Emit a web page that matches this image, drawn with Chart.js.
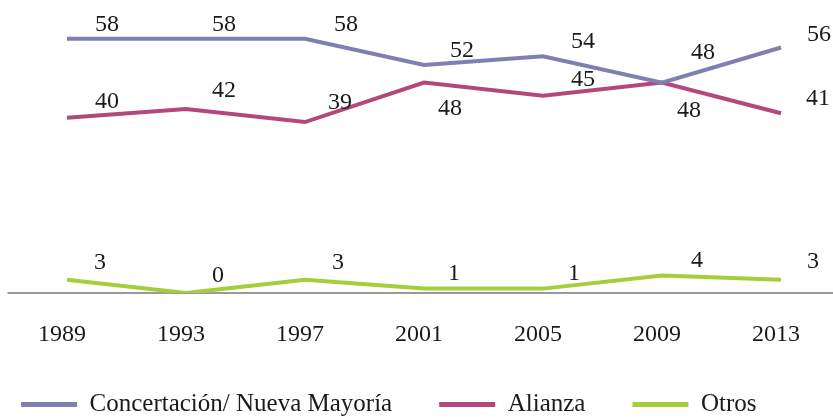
<!DOCTYPE html>
<html><head><meta charset="utf-8">
<script src="https://cdn.jsdelivr.net/npm/chart.js@4/dist/chart.umd.min.js"></script>
<style>html,body{margin:0;padding:0;background:#fff;overflow:hidden}</style>
</head><body>
<canvas id="c" width="833" height="417"></canvas>
<script>
// ---- data ----
const years = ['1989', '1993', '1997', '2001', '2005', '2009', '2013'];
const seriesNames = ['Concertación/ Nueva Mayoría', 'Alianza', 'Otros'];
const concertacion = [58, 58, 58, 52, 54, 48, 56];
const alianza = [40, 42, 39, 48, 45, 48, 41];
const otros = [3, 0, 3, 1, 1, 4, 3];

// ---- styles ----
const colors = ['#7f7fb2', '#b4487c', '#a6cd3a'];
const FONT = '"Liberation Serif", "Times New Roman", serif';
const PAD_BOTTOM = -10;
// label offsets (dx, dy in px) from each point
const labelOffsets = [
  [[40,-14],[38,-14],[41,-14],[38,-14],[40,-15],[41,-30],[38,-13]],
  [[40,-16],[38,-18],[35,-19],[26,26],[40,-16],[27,28],[37,-15]],
  [[33,-17],[32,-17],[33,-17],[30,-15],[31,-15],[35,-15],[32,-18]]
];

const valueLabels = {
  id: 'valueLabels',
  afterDatasetsDraw(chart) {
    const ctx = chart.ctx;
    ctx.save();
    ctx.font = '24px ' + FONT;
    ctx.fillStyle = '#1a1a1a';
    ctx.textAlign = 'center';
    ctx.textBaseline = 'middle';
    chart.data.datasets.forEach((ds, i) => {
      const meta = chart.getDatasetMeta(i);
      meta.data.forEach((pt, j) => {
        const o = labelOffsets[i][j];
        ctx.fillText(String(ds.data[j]), pt.x + o[0], pt.y + o[1]);
      });
    });
    ctx.restore();
  }
};

const baseline = {
  id: 'baseline',
  beforeDatasetsDraw(chart) {
    const x = chart.scales.x, y = chart.scales.y;
    const half = (x.getPixelForValue(1) - x.getPixelForValue(0)) / 2;
    const py = y.getPixelForValue(0);
    const ctx = chart.ctx;
    ctx.save();
    ctx.strokeStyle = '#9a9a9a';
    ctx.lineWidth = 2;
    ctx.beginPath();
    ctx.moveTo(x.getPixelForValue(0) - half, py);
    ctx.lineTo(chart.width, py);
    ctx.stroke();
    ctx.restore();
  }
};

const mk = (label, data, c) => ({
  label, data,
  borderColor: c, backgroundColor: c,
  borderWidth: 4, pointRadius: 0, tension: 0,
  borderCapStyle: 'butt', borderJoinStyle: 'miter'
});

const hiddenAxis = (pos, w, extra) => Object.assign({
  position: pos,
  display: true,
  grid: { display: false, drawTicks: false },
  border: { display: false },
  ticks: { display: false },
  afterFit(s) { s.width = w; }
}, extra || {});

new Chart(document.getElementById('c'), {
  type: 'line',
  data: {
    labels: years,
    datasets: [
      mk(seriesNames[0], concertacion, colors[0]),
      mk(seriesNames[1], alianza, colors[1]),
      mk(seriesNames[2], otros, colors[2])
    ]
  },
  options: {
    responsive: false,
    animation: false,
    layout: { padding: { top: 30, left: -40, right: 15.5, bottom: PAD_BOTTOM } },
    plugins: {
      tooltip: { enabled: false },
      legend: {
        position: 'bottom',
        labels: {
          font: { family: FONT, size: 25 },
          color: '#1a1a1a',
          boxWidth: 56, boxHeight: 5,
          padding: 47,
          generateLabels(chart) {
            return chart.data.datasets.map((ds, i) => ({
              text: ds.label, fillStyle: ds.borderColor, strokeStyle: ds.borderColor,
              lineWidth: 0, datasetIndex: i, fontColor: '#1a1a1a'
            }));
          }
        }
      }
    },
    scales: {
      x: {
        offset: false,
        grid: { display: false, drawTicks: false },
        border: { display: false },
        ticks: { font: { family: FONT, size: 24 }, color: '#1a1a1a', padding: 27, labelOffset: -5, maxRotation: 0 },
        afterFit(s) { s.height = Math.max(0, 124 - PAD_BOTTOM - (s.chart.legend ? s.chart.legend.height : 0)); }
      },
      y: hiddenAxis('left', 107, { min: 0, max: 60 }),
      y2: hiddenAxis('right', 36.5, { min: 0, max: 1 })
    }
  },
  plugins: [baseline, valueLabels]
});
</script>
</body></html>
